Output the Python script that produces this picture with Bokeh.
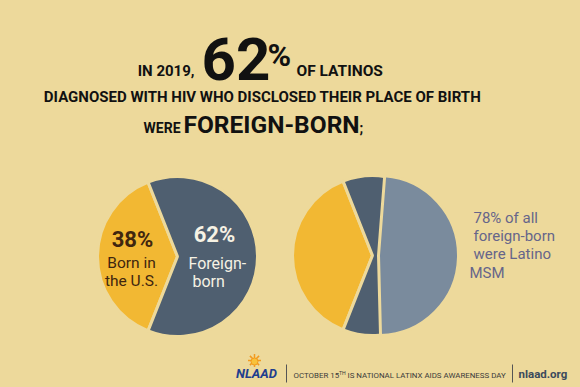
import math
from bokeh.plotting import figure
from bokeh.models import Range1d
from bokeh.embed import file_html
from bokeh.resources import INLINE
from bokeh.core.properties import value

# ---------------- data ----------------
year = 2019
birth_labels = ["Born in the U.S.", "Foreign-born"]
birth_share = [38, 62]                 # % of Latinos diagnosed with HIV
foreign_groups = ["Latino MSM", "Other foreign-born"]
foreign_share = [78, 22]               # % of foreign-born

# ---------------- style ----------------
BG = "#EDD99B"
YELLOW = "#F2B833"
DARK = "#4F5F70"
LIGHT = "#7A8B9D"
BROWN = "#40260F"
PURPLE = "#66658A"
FONT = value("Roboto")

W, H = 580, 387
def Y(v):
    return H - v

p = figure(width=W, height=H, x_range=Range1d(0, W), y_range=Range1d(0, H),
           output_backend="svg", toolbar_location=None, min_border=0,
           x_axis_location=None, y_axis_location=None,
           background_fill_color=BG, border_fill_color=BG, outline_line_color=None)
p.grid.visible = False

# ---------------- pies ----------------
f_us = birth_share[0] / sum(birth_share)
ys, ye = math.pi - f_us * math.pi, math.pi + f_us * math.pi   # U.S.-born wedge centred on the left

R = 80
# left pie
lc = (177, Y(256))
p.wedge(x=[lc[0]], y=[lc[1]], radius=R, start_angle=ys, end_angle=ye,
        fill_color=YELLOW, line_color=BG, line_width=3)
p.wedge(x=[lc[0]], y=[lc[1]], radius=R, start_angle=ye, end_angle=ys + 2 * math.pi,
        fill_color=DARK, line_color=BG, line_width=3)

# right pie
rc = (372, Y(255))
p.wedge(x=[rc[0]], y=[rc[1]], radius=R, start_angle=ys, end_angle=ye,
        fill_color=YELLOW, line_color=BG, line_width=3)
p.wedge(x=[rc[0]], y=[rc[1]], radius=R, start_angle=ye, end_angle=ys + 2 * math.pi,
        fill_color=DARK, line_color=BG, line_width=3)
f_msm = (birth_share[1] / sum(birth_share)) * foreign_share[0] / sum(foreign_share)
half = f_msm * math.pi
tilt = math.radians(-1.5)
p.wedge(x=[rc[0] + 6], y=[rc[1]], radius=R, start_angle=tilt - half, end_angle=tilt + half,
        fill_color=LIGHT, line_color=BG, line_width=3)

# ---------------- texts ----------------
def txt(x, y, s, size, color="#111111", align="left", style="bold", font=FONT):
    # y is the wanted baseline (pixels from the top); shift for the renderer's baseline placement
    p.text(x=[x], y=[Y(y - 0.27 * size)], text=[s], text_font=font, text_font_size=f"{size}px",
           text_font_style=style, text_color=color, text_align=align, text_baseline="alphabetic")

# title
txt(194, 75, f"IN {year},", 15, align="right")
txt(201, 75, f"{birth_share[1]}", 60)
txt(267, 63, "%", 32)
txt(296, 75, "OF LATINOS", 15.5)
txt(262, 101, "DIAGNOSED WITH HIV WHO DISCLOSED THEIR PLACE OF BIRTH", 15, align="center")
txt(180, 131, "WERE", 14, align="right")
txt(183, 131, "FOREIGN-BORN", 24.5)
txt(359, 131, ";", 14)

# left pie labels
txt(132, 245, f"{birth_share[0]}%", 22, color=BROWN, align="center")
txt(131, 267, "Born in", 15.5, color=BROWN, align="center", style="normal")
txt(131, 285, "the U.S.", 15.5, color=BROWN, align="center", style="normal")
txt(214, 240, f"{birth_share[1]}%", 22, color="#F6F2E4", align="center")
txt(188, 267, "Foreign-", 16, color="#F6F2E4", style="normal")
txt(192, 285, "born", 16, color="#F6F2E4", style="normal")

# right pie labels
right_lines = [f"{foreign_share[0]}% of all", "foreign-born", f"were {foreign_groups[0].split()[0]}",
               foreign_groups[0].split()[1]]
right_x = [473, 473, 473, 469]
right_y = [222, 240, 258, 277]
for xx, yy, s in zip(right_x, right_y, right_lines):
    txt(xx, yy, s, 15, color=PURPLE, style="normal")

# footer
p.scatter(x=[254], y=[Y(360)], marker="asterisk", size=13, line_color="#F29A1E", line_width=1.5)
p.scatter(x=[254], y=[Y(361)], marker="circle", size=7, fill_color="#F8C23A", line_color="#F29A1E")
txt(256, 377, "NLAAD", 13, color="#1F3E8E", align="center", style="bold italic")
p.segment(x0=[286, 512], y0=[Y(364), Y(364)], x1=[286, 512], y1=[Y(382), Y(382)],
          line_color="#555555", line_width=1)
txt(293, 377, "OCTOBER 15", 7.9, color="#3A3A3A", style="normal")
txt(338.5, 373.5, "TH", 5.2, color="#3A3A3A", style="normal")
txt(347, 377, "IS NATIONAL LATINX AIDS AWARENESS DAY", 7.9, color="#3A3A3A", style="normal")
txt(518, 377, "nlaad.org", 11.5, color="#3C4A5C", style="bold")

html = file_html(p, INLINE, title="Latinos foreign-born HIV")
html = html.replace("<head>", "<head><style>body{background:%s;}</style>" % BG, 1)
open("out.html", "w").write(html)
